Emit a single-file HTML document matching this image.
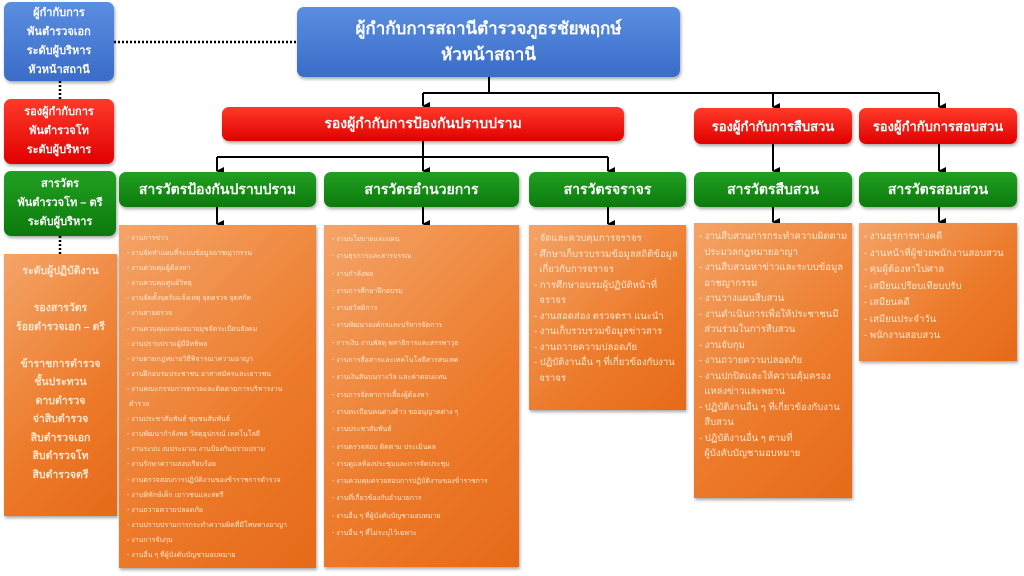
<!DOCTYPE html>
<html><head><meta charset="utf-8"><style>
*{margin:0;padding:0;box-sizing:border-box}
body{width:1024px;height:576px;background:#fff;position:relative;overflow:hidden;font-family:"Liberation Sans","Noto Sans CJK SC","WenQuanYi Zen Hei",sans-serif}
.b{position:absolute;display:flex;align-items:center;justify-content:center;text-align:center;color:#fff;font-weight:bold;border-radius:7px;box-shadow:1px 2px 3px rgba(0,0,0,.35)}
.bl{background:linear-gradient(#5a8ee0,#3a6cc8)}
.rd{background:linear-gradient(#ff3a2a,#e00000)}
.gr{background:linear-gradient(#22a022,#0b7a0b)}
.or{position:absolute;background:linear-gradient(135deg,#f4a468,#ec7a2a 60%,#e66a18);color:#fde6cc;box-shadow:1px 2px 3px rgba(0,0,0,.35);font-size:7px;padding:6px 8px;line-height:15.1px;white-space:nowrap;overflow:hidden}
.or.big{font-size:9.5px;line-height:15.5px;padding:6px 5px}
</style></head><body>
<svg width="1024" height="576" style="position:absolute;left:0;top:0">
<defs><marker id="a" markerUnits="userSpaceOnUse" markerWidth="8" markerHeight="8" refX="4" refY="7" orient="auto"><path d="M0,0 L8,0 L4,8z" fill="#000"/></marker></defs>
<g stroke="#000" stroke-width="2" fill="none">
<line x1="114" y1="42" x2="297" y2="42" stroke-dasharray="2,2" stroke-width="2.5"/>
<line x1="60" y1="81" x2="60" y2="99" stroke-dasharray="2,2" stroke-width="2.5"/>
<line x1="60" y1="236" x2="60" y2="254" stroke-dasharray="2,2" stroke-width="2.5"/>
<line x1="489" y1="77" x2="489" y2="93"/>
<line x1="423" y1="93" x2="939" y2="93"/>
<line x1="423" y1="93" x2="423" y2="106" marker-end="url(#a)"/>
<line x1="773" y1="93" x2="773" y2="107" marker-end="url(#a)"/>
<line x1="939" y1="93" x2="939" y2="107" marker-end="url(#a)"/>
<line x1="423" y1="141" x2="423" y2="157"/>
<line x1="217" y1="157" x2="608" y2="157"/>
<line x1="217" y1="157" x2="217" y2="171" marker-end="url(#a)"/>
<line x1="423" y1="157" x2="423" y2="171" marker-end="url(#a)"/>
<line x1="608" y1="157" x2="608" y2="171" marker-end="url(#a)"/>
<line x1="773" y1="144" x2="773" y2="171" marker-end="url(#a)"/>
<line x1="939" y1="144" x2="939" y2="171" marker-end="url(#a)"/>
<line x1="217" y1="207" x2="217" y2="224" marker-end="url(#a)"/>
<line x1="423" y1="207" x2="423" y2="224" marker-end="url(#a)"/>
<line x1="608" y1="207" x2="608" y2="224" marker-end="url(#a)"/>
<line x1="773" y1="207" x2="773" y2="222" marker-end="url(#a)"/>
<line x1="939" y1="207" x2="939" y2="222" marker-end="url(#a)"/>
</g></svg>

<div class="b bl" style="left:4px;top:2px;width:110px;height:79px;font-size:11px;line-height:19px">ผู้กำกับการ<br>พันตำรวจเอก<br>ระดับผู้บริหาร<br>หัวหน้าสถานี</div>
<div class="b rd" style="left:4px;top:99px;width:110px;height:65px;font-size:11px;line-height:19px">รองผู้กำกับการ<br>พันตำรวจโท<br>ระดับผู้บริหาร</div>
<div class="b gr" style="left:4px;top:171px;width:112px;height:65px;font-size:11px;line-height:19px">สารวัตร<br>พันตำรวจโท – ตรี<br>ระดับผู้บริหาร</div>
<div class="b" style="left:4px;top:254px;width:113px;height:262px;font-size:10.5px;line-height:18.5px;border-radius:0;background:linear-gradient(135deg,#f4a468,#ec7a2a 60%,#e66a18);color:#fde6cc;align-items:flex-start;padding-top:8px">ระดับผู้ปฏิบัติงาน<br><br>รองสารวัตร<br>ร้อยตำรวจเอก – ตรี<br><br>ข้าราชการตำรวจ<br>ชั้นประทวน<br>ดาบตำรวจ<br>จ่าสิบตำรวจ<br>สิบตำรวจเอก<br>สิบตำรวจโท<br>สิบตำรวจตรี</div>

<div class="b bl" style="left:297px;top:7px;width:383px;height:70px;font-size:17px;line-height:26px">ผู้กำกับการสถานีตำรวจภูธรชัยพฤกษ์<br>หัวหน้าสถานี</div>
<div class="b rd" style="left:222px;top:107px;width:402px;height:34px;font-size:14px">รองผู้กำกับการป้องกันปราบปราม</div>
<div class="b rd" style="left:694px;top:108px;width:158px;height:36px;font-size:13px">รองผู้กำกับการสืบสวน</div>
<div class="b rd" style="left:859px;top:108px;width:158px;height:36px;font-size:13px">รองผู้กำกับการสอบสวน</div>

<div class="b gr" style="left:119px;top:172px;width:197px;height:35px;font-size:14px">สารวัตรป้องกันปราบปราม</div>
<div class="b gr" style="left:324px;top:172px;width:195px;height:35px;font-size:14px">สารวัตรอำนวยการ</div>
<div class="b gr" style="left:529px;top:172px;width:157px;height:35px;font-size:14px">สารวัตรจราจร</div>
<div class="b gr" style="left:694px;top:172px;width:158px;height:35px;font-size:14px">สารวัตรสืบสวน</div>
<div class="b gr" style="left:859px;top:172px;width:158px;height:35px;font-size:14px">สารวัตรสอบสวน</div>

<div class="or" style="left:119px;top:225px;width:197px;height:343px">- งานการข่าว<br>- งานจัดทำแผนที่ระบบข้อมูลอาชญากรรม<br>- งานควบคุมผู้ต้องหา<br>- งานควบคุมศูนย์วิทยุ<br>- งานจัดตั้งจุดรับแจ้งเหตุ จุดตรวจ จุดสกัด<br>- งานสายตรวจ<br>- งานควบคุมแหล่งอบายมุขจัดระเบียบสังคม<br>- งานปราบปรามผู้มีอิทธิพล<br>- งานตามกฎหมายวิธีพิจารณาความอาญา<br>- งานฝึกอบรมประชาชน อาสาสมัครและเยาวชน<br>- งานคณะกรรมการตรวจและติดตามการบริหารงาน<br>&nbsp;ตำรวจ<br>- งานประชาสัมพันธ์ ชุมชนสัมพันธ์<br>- งานพัฒนากำลังพล วัสดุอุปกรณ์ เทคโนโลยี<br>- งานระบบ งบประมาณ งานป้องกันปราบปราม<br>- งานรักษาความสงบเรียบร้อย<br>- งานตรวจสอบการปฏิบัติงานของข้าราชการตำรวจ<br>- งานพิทักษ์เด็ก เยาวชนและสตรี<br>- งานถวายความปลอดภัย<br>- งานปราบปรามการกระทำความผิดที่มีโทษทางอาญา<br>- งานการจับกุม<br>- งานอื่น ๆ ที่ผู้บังคับบัญชามอบหมาย</div>
<div class="or" style="left:324px;top:225px;width:195px;height:342px;line-height:17.3px">- งานนโยบายและแผน<br>- งานธุรการและสารบรรณ<br>- งานกำลังพล<br>- งานการศึกษาฝึกอบรม<br>- งานสวัสดิการ<br>- งานพัฒนาองค์กรและบริหารจัดการ<br>- การเงิน งานพัสดุ พลาธิการและสรรพาวุธ<br>- งานการสื่อสารและเทคโนโลยีสารสนเทศ<br>- งานเงินสินบนรางวัล และค่าตอบแทน<br>- งานการจัดหาการเลี้ยงผู้ต้องหา<br>- งานทะเบียนคนต่างด้าว ขออนุญาตต่าง ๆ<br>- งานประชาสัมพันธ์<br>- งานตรวจสอบ ติดตาม ประเมินผล<br>- งานดูแลห้องประชุมและการจัดประชุม<br>- งานควบคุมตรวจสอบการปฏิบัติงานของข้าราชการ<br>- งานที่เกี่ยวข้องกับอำนวยการ<br>- งานอื่น ๆ ที่ผู้บังคับบัญชามอบหมาย<br>- งานอื่น ๆ ที่ไม่ระบุไว้เฉพาะ</div>
<div class="or big" style="left:529px;top:225px;width:157px;height:185px">- จัดและควบคุมการจราจร<br>- ศึกษาเก็บรวบรวมข้อมูลสถิติข้อมูล<br>&nbsp;&nbsp;เกี่ยวกับการจราจร<br>- การศึกษาอบรมผู้ปฏิบัติหน้าที่<br>&nbsp;&nbsp;จราจร<br>- งานสอดส่อง ตรวจตรา แนะนำ<br>- งานเก็บรวบรวมข้อมูลข่าวสาร<br>- งานถวายความปลอดภัย<br>- ปฏิบัติงานอื่น ๆ ที่เกี่ยวข้องกับงาน<br>&nbsp;&nbsp;จราจร</div>
<div class="or big" style="left:694px;top:223px;width:158px;height:275px">- งานสืบสวนการกระทำความผิดตาม<br>&nbsp;&nbsp;ประมวลกฎหมายอาญา<br>- งานสืบสวนหาข่าวและระบบข้อมูล<br>&nbsp;&nbsp;อาชญากรรม<br>- งานวางแผนสืบสวน<br>- งานดำเนินการเพื่อให้ประชาชนมี<br>&nbsp;&nbsp;ส่วนร่วมในการสืบสวน<br>- งานจับกุม<br>- งานถวายความปลอดภัย<br>- งานปกปิดและให้ความคุ้มครอง<br>&nbsp;&nbsp;แหล่งข่าวและพยาน<br>- ปฏิบัติงานอื่น ๆ ที่เกี่ยวข้องกับงาน<br>&nbsp;&nbsp;สืบสวน<br>- ปฏิบัติงานอื่น ๆ ตามที่<br>&nbsp;&nbsp;ผู้บังคับบัญชามอบหมาย</div>
<div class="or big" style="left:859px;top:223px;width:158px;height:138px;line-height:16.5px">- งานธุรการทางคดี<br>- งานหน้าที่ผู้ช่วยพนักงานสอบสวน<br>- คุมผู้ต้องหาไปศาล<br>- เสมียนเปรียบเทียบปรับ<br>- เสมียนคดี<br>- เสมียนประจำวัน<br>- พนักงานสอบสวน</div>
</body></html>
